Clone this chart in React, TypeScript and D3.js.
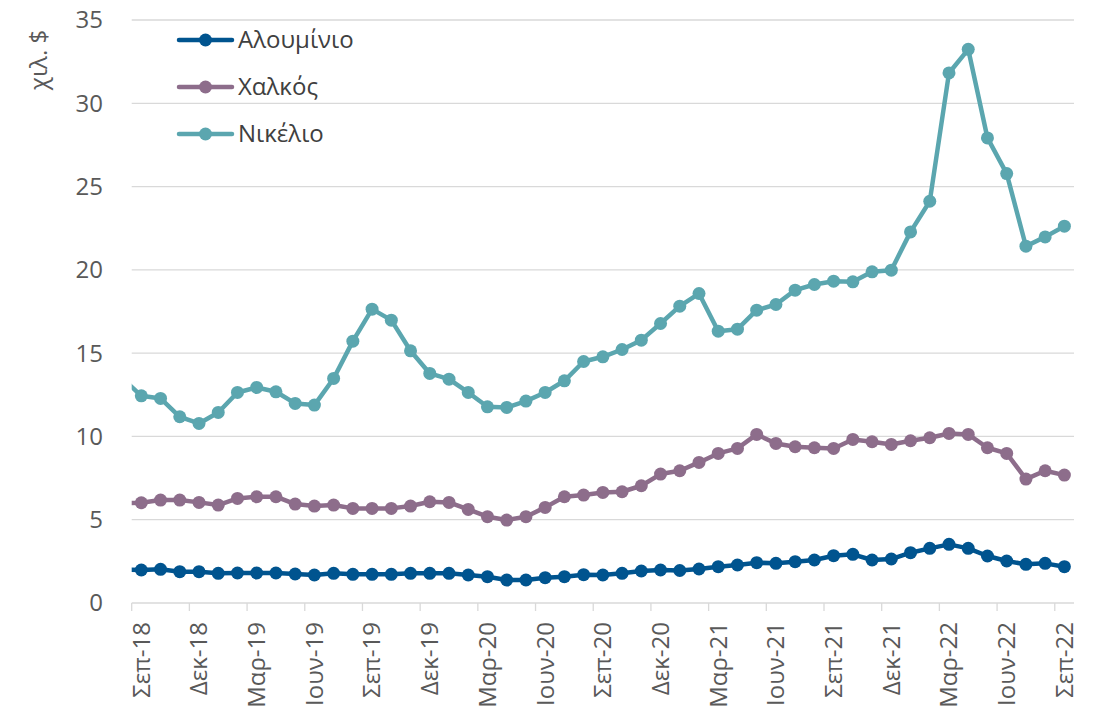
import React, { useEffect, useRef } from "react";
import * as d3 from "d3";

// Sep-18 .. Sep-22 (monthly), plus Aug-18 which is cut by the left edge
const prevAug18 = { aluminium: 2.0, copper: 6.0, nickel: 13.5 };

const aluminium = [
  1.98, 2.02, 1.88, 1.88, 1.78, 1.8, 1.8, 1.8, 1.74, 1.68, 1.78, 1.72, 1.72,
  1.72, 1.78, 1.78, 1.78, 1.68, 1.58, 1.38, 1.38, 1.52, 1.58, 1.7, 1.68, 1.78,
  1.92, 1.98, 1.95, 2.04, 2.18, 2.28, 2.42, 2.38, 2.48, 2.58, 2.84, 2.92, 2.58,
  2.64, 3.02, 3.28, 3.52, 3.28, 2.82, 2.52, 2.32, 2.38, 2.18,
];
const copper = [
  6.02, 6.18, 6.18, 6.04, 5.88, 6.28, 6.38, 6.38, 5.94, 5.82, 5.88, 5.68, 5.68,
  5.68, 5.82, 6.08, 6.04, 5.62, 5.18, 4.98, 5.18, 5.74, 6.38, 6.48, 6.64, 6.68,
  7.04, 7.74, 7.94, 8.44, 8.98, 9.28, 10.12, 9.58, 9.38, 9.32, 9.28, 9.82, 9.68,
  9.52, 9.74, 9.92, 10.18, 10.12, 9.32, 8.98, 7.44, 7.94, 7.68,
];
const nickel = [
  12.44, 12.28, 11.18, 10.78, 11.44, 12.64, 12.94, 12.68, 11.98, 11.88, 13.48,
  15.72, 17.64, 16.98, 15.14, 13.78, 13.44, 12.64, 11.78, 11.74, 12.12, 12.64,
  13.34, 14.5, 14.78, 15.22, 15.78, 16.78, 17.82, 18.58, 16.32, 16.44, 17.58,
  17.92, 18.78, 19.12, 19.32, 19.28, 19.88, 19.98, 22.28, 24.12, 31.82, 33.24,
  27.92, 25.78, 21.42, 21.98, 22.62,
];

const tickLabels = [
  "Σεπ-18", "Δεκ-18", "Μαρ-19", "Ιουν-19", "Σεπ-19", "Δεκ-19", "Μαρ-20",
  "Ιουν-20", "Σεπ-20", "Δεκ-20", "Μαρ-21", "Ιουν-21", "Σεπ-21", "Δεκ-21",
  "Μαρ-22", "Ιουν-22", "Σεπ-22",
];

const seriesNames = ["Αλουμίνιο", "Χαλκός", "Νικέλιο"];
const seriesColors = ["#00548f", "#8d6d8b", "#5ba6af"];
const yTicks = [0, 5, 10, 15, 20, 25, 30, 35];

const FONT = "'Open Sans', 'Noto Sans', sans-serif";
const FS = 24;

const App = () => {
  const ref = useRef<SVGSVGElement | null>(null);

  useEffect(() => {
    if (!ref.current) return;
    const svg = d3.select(ref.current);
    svg.selectAll("*").remove();

    const width = 1094;
    const height = 716;
    const left = 131.7;
    const right = 1074;
    const top = 20;
    const bottom = 603;
    const n = nickel.length;

    const x = d3.scaleLinear().domain([-0.5, n - 0.5]).range([left, right]);
    const y = d3.scaleLinear().domain([0, 35]).range([bottom, top]);

    svg.attr("width", width).attr("height", height);

    svg
      .append("defs")
      .append("clipPath")
      .attr("id", "plotclip")
      .append("rect")
      .attr("x", left)
      .attr("y", 0)
      .attr("width", right - left + 10)
      .attr("height", bottom + 10);

    // grid
    svg
      .append("g")
      .selectAll("line")
      .data(yTicks.filter((d) => d > 0))
      .enter()
      .append("line")
      .attr("x1", left)
      .attr("x2", right)
      .attr("y1", (d) => y(d))
      .attr("y2", (d) => y(d))
      .attr("stroke", "#d9d9d9")
      .attr("stroke-width", 1.3);

    // y labels
    svg
      .append("g")
      .selectAll("text")
      .data(yTicks)
      .enter()
      .append("text")
      .attr("x", 103)
      .attr("y", (d) => y(d))
      .attr("dy", "0.35em")
      .attr("text-anchor", "end")
      .attr("font-family", FONT)
      .attr("font-size", FS)
      .attr("fill", "#595959")
      .text((d) => d);

    svg
      .append("text")
      .attr("transform", `translate(47, 60) rotate(-90)`)
      .attr("text-anchor", "middle")
      .attr("font-family", FONT)
      .attr("font-size", FS)
      .attr("fill", "#595959")
      .text("χιλ. $");

    // x axis
    const xAxis = svg.append("g");
    xAxis
      .append("line")
      .attr("x1", left)
      .attr("x2", right)
      .attr("y1", bottom)
      .attr("y2", bottom)
      .attr("stroke", "#d9d9d9")
      .attr("stroke-width", 1.3);
    xAxis
      .selectAll(".tk")
      .data(tickLabels)
      .enter()
      .append("line")
      .attr("class", "tk")
      .attr("x1", (_, i) => x(i * 3 - 0.5))
      .attr("x2", (_, i) => x(i * 3 - 0.5))
      .attr("y1", bottom)
      .attr("y2", bottom + 8)
      .attr("stroke", "#d9d9d9")
      .attr("stroke-width", 1.3);
    xAxis
      .selectAll(".lbl")
      .data(tickLabels)
      .enter()
      .append("text")
      .attr("class", "lbl")
      .attr("transform", (_, i) => `translate(${x(i * 3)}, ${bottom + 19}) rotate(-90)`)
      .attr("dy", "0.35em")
      .attr("text-anchor", "end")
      .attr("font-family", FONT)
      .attr("font-size", FS)
      .attr("fill", "#595959")
      .text((d) => d);

    // series
    const all = [
      [prevAug18.aluminium, ...aluminium],
      [prevAug18.copper, ...copper],
      [prevAug18.nickel, ...nickel],
    ];
    const line = d3
      .line<number>()
      .x((_, i) => x(i - 1))
      .y((d) => y(d));

    const plot = svg.append("g").attr("clip-path", "url(#plotclip)");
    all.forEach((vals, s) => {
      const g = plot.append("g");
      g.append("path")
        .attr("d", line(vals))
        .attr("fill", "none")
        .attr("stroke", seriesColors[s])
        .attr("stroke-width", 4.5)
        .attr("stroke-linejoin", "round");
      g.selectAll("circle")
        .data(vals)
        .enter()
        .append("circle")
        .attr("cx", (_, i) => x(i - 1))
        .attr("cy", (d) => y(d))
        .attr("r", 6.5)
        .attr("fill", seriesColors[s]);
    });

    // legend
    const legend = svg.append("g");
    seriesNames.forEach((name, i) => {
      const ly = 40 + i * 47;
      legend
        .append("line")
        .attr("x1", 179)
        .attr("x2", 232)
        .attr("y1", ly)
        .attr("y2", ly)
        .attr("stroke", seriesColors[i])
        .attr("stroke-width", 4.5)
        .attr("stroke-linecap", "round");
      legend
        .append("circle")
        .attr("cx", 205.5)
        .attr("cy", ly)
        .attr("r", 6.5)
        .attr("fill", seriesColors[i]);
      legend
        .append("text")
        .attr("x", 238)
        .attr("y", ly)
        .attr("dy", "0.35em")
        .attr("font-family", FONT)
        .attr("font-size", FS)
        .attr("fill", "#404040")
        .text(name);
    });
  }, []);

  return (
    <svg
      ref={ref}
      style={{ position: "absolute", left: 0, top: 0, background: "#fff" }}
    ></svg>
  );
};

export default App;
